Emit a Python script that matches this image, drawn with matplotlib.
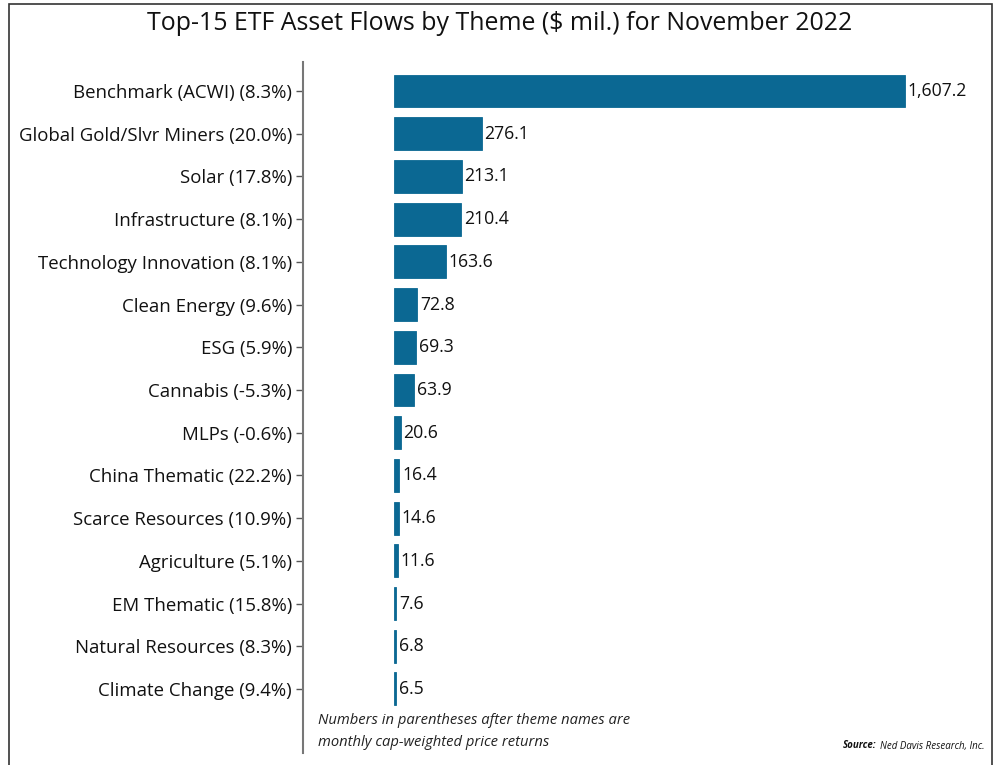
import matplotlib.pyplot as plt
from matplotlib.patches import Rectangle

temas = ["Benchmark (ACWI) (8.3%)", "Global Gold/Slvr Miners (20.0%)", "Solar (17.8%)",
         "Infrastructure (8.1%)", "Technology Innovation (8.1%)", "Clean Energy (9.6%)",
         "ESG (5.9%)", "Cannabis (-5.3%)", "MLPs (-0.6%)", "China Thematic (22.2%)",
         "Scarce Resources (10.9%)", "Agriculture (5.1%)", "EM Thematic (15.8%)",
         "Natural Resources (8.3%)", "Climate Change (9.4%)"]
fluxos = [1607.2, 276.1, 213.1, 210.4, 163.6, 72.8, 69.3, 63.9, 20.6, 16.4, 14.6, 11.6, 7.6, 6.8, 6.5]
rotulos = ["1,607.2", "276.1", "213.1", "210.4", "163.6", "72.8", "69.3", "63.9",
           "20.6", "16.4", "14.6", "11.6", "7.6", "6.8", "6.5"]

plt.rcParams['font.family'] = ['Open Sans', 'DejaVu Sans']

W, H = 996, 765
fig = plt.figure(figsize=(W / 100, H / 100), dpi=100)

# moldura da figura
fig.patches.append(Rectangle((9 / W, -0.01), (992 - 9) / W, 1.01 - 5 / H + 0.001,
                             transform=fig.transFigure, fill=False,
                             edgecolor='#333333', linewidth=1.2))

# eixo: spine em x=303, de y=62 ate y=753
ax = fig.add_axes([303 / W, 1 - 753 / H, (990 - 303) / W, (753 - 62) / H])

n = len(temas)
pos = list(range(n))
ax.barh(pos, fluxos, height=0.77, color='#0b6893', edgecolor='#0b6893', linewidth=0.6)
escala = (905 - 394) / 1607.2
ax.set_xlim(-(394 - 303) / escala, (990 - 394) / escala)
ax.set_ylim(n - 1 + 1.5, -0.68)

for p, v, r in zip(pos, fluxos, rotulos):
    ax.annotate(r, (v, p), xytext=(2, 0), textcoords='offset points',
                va='center', ha='left', fontsize=12.7, color='#111111')

ax.set_yticks(pos)
ax.set_yticklabels(temas, fontsize=13.4, color='#111111')
ax.tick_params(axis='y', length=5, width=1, color='#555555', pad=3)
ax.set_xticks([])
for lado in ['top', 'right', 'bottom']:
    ax.spines[lado].set_visible(False)
ax.spines['left'].set_color('#777777')
ax.spines['left'].set_linewidth(1.5)

fig.text(500 / W, 1 - 23 / H, "Top-15 ETF Asset Flows by Theme ($ mil.) for November 2022",
         ha='center', va='center', fontsize=17.9, color='#111111')

fig.text(318 / W, 1 - 721 / H, "Numbers in parentheses after theme names are",
         ha='left', va='center', fontsize=10.6, style='italic', color='#222222')
fig.text(318 / W, 1 - 743 / H, "monthly cap-weighted price returns",
         ha='left', va='center', fontsize=10.6, style='italic', color='#222222')

fig.text(876 / W, 1 - 746 / H, "Source:", ha='right', va='center', fontsize=7,
         style='italic', weight='bold', color='#111111')
fig.text(880 / W, 1 - 746 / H, "Ned Davis Research, Inc.", ha='left', va='center',
         fontsize=7, style='italic', color='#111111')

fig.savefig("out.png", dpi=100)
